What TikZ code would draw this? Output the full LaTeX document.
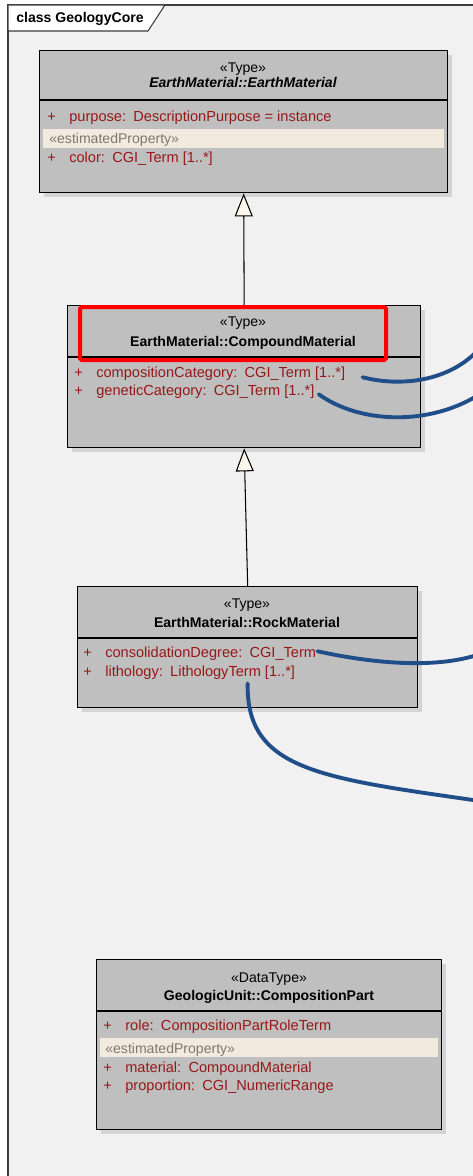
\documentclass[tikz,border=0pt]{standalone}
\usepackage{fontspec}
\setmainfont{Liberation Sans}
\usepackage{xcolor}
\usetikzlibrary{arrows.meta, calc, shadows}

\definecolor{framebg}{RGB}{241,241,241}
\definecolor{framecol}{RGB}{60,60,60}
\definecolor{boxgray}{RGB}{191,191,191}
\definecolor{shadowgray}{RGB}{212,212,212}
\definecolor{attrred}{RGB}{150,25,25}
\definecolor{estgray}{RGB}{125,120,112}
\definecolor{bandfill}{RGB}{242,234,222}
\definecolor{creamfill}{RGB}{253,246,234}
\definecolor{assocblue}{RGB}{31,78,137}

\newcommand{\plus}{\makebox[0.44cm][l]{+}}

\begin{document}
\begin{tikzpicture}[x=0.02cm, y=-0.02cm,
    font=\fontsize{8}{9.6}\selectfont,
    classbox/.style={draw=black, line width=0.8pt, fill=boxgray, anchor=north west, inner sep=0pt,
        drop shadow={shadow xshift=0.09cm, shadow yshift=-0.09cm, fill=shadowgray, opacity=1}},
    divider/.style={line width=0.6pt},
    stereo/.style={anchor=base, inner sep=0pt},
    cname/.style={anchor=base, inner sep=0pt, font=\fontsize{8}{9.6}\selectfont\bfseries},
    attr/.style={anchor=base west, inner sep=0pt, text=attrred, font=\fontsize{8.3}{10}\selectfont},
    estband/.style={fill=bandfill},
    esttext/.style={anchor=base west, inner sep=0pt, text=estgray},
    redmark/.style={draw=red, line width=0.08cm, rounded corners=1pt},
    gen/.style={-{Triangle[width=0.36cm, length=0.46cm, fill=creamfill]}, line width=0.6pt},
    assoc/.style={draw=assocblue, line width=2.2pt, line cap=round}]
\useasboundingbox (0,0) rectangle (473,1176);
\clip (0,0) rectangle (473,1176);

\fill[white] (0,0) rectangle (473,1176);
\fill[framebg] (8,5) rectangle (480,1180);
\draw[framecol, line width=0.6pt] (8,1180) -- (8,5) -- (480,5);
\filldraw[fill=white, draw=framecol, line width=0.6pt] (8,5) -- (165,5) -- (148,31) -- (8,31) -- cycle;
\node[anchor=base west, inner sep=0pt, font=\fontsize{8}{9.6}\selectfont\bfseries] (title) at (16,23) {class GeologyCore};

\node[classbox, minimum width=8.16cm, minimum height=2.84cm] (em) at (39,50) {};
\node[classbox, minimum width=7.06cm, minimum height=2.84cm] (cm) at (67,305) {};
\node[classbox, minimum width=6.8cm, minimum height=2.42cm] (rm) at (77,586) {};
\node[classbox, minimum width=6.9cm, minimum height=3.4cm] (cp) at (96,959) {};

\draw[divider] (39,100) -- (447,100);
\node[stereo] (emst) at (243,72) {«Type»};
\node[cname, font=\fontsize{8}{9.6}\selectfont\bfseries\itshape] (emnm) at (243,88) {EarthMaterial::EarthMaterial};
\node[attr] (pu) at (47,121) {\plus purpose:\enspace DescriptionPurpose = instance};
\fill[estband] (43,129) rectangle (444,148);
\node[esttext] (emest) at (49,143) {«estimatedProperty»};
\node[attr] (co) at (47,162) {\plus color:\enspace CGI\_Term [1..*]};

\draw[divider] (67,357) -- (420,357);
\node[stereo] (cmst) at (243,326) {«Type»};
\node[cname] (cmnm) at (243,346) {EarthMaterial::CompoundMaterial};
\draw[redmark] (80,307) rectangle (386,360);
\node[attr] (cc) at (74,377) {\plus compositionCategory:\enspace CGI\_Term [1..*]};
\node[attr] (gc) at (74,395) {\plus geneticCategory:\enspace CGI\_Term [1..*]};

\draw[divider] (77,638) -- (417,638);
\node[stereo] (rmst) at (247,608) {«Type»};
\node[cname] (rmnm) at (247,627) {EarthMaterial::RockMaterial};
\node[attr] (cd) at (83,657) {\plus consolidationDegree:\enspace CGI\_Term};
\node[attr] (li) at (83,676) {\plus lithology:\enspace LithologyTerm [1..*]};

\draw[divider] (96,1011) -- (441,1011);
\node[stereo] (cpst) at (269,982) {«DataType»};
\node[cname] (cpnm) at (269,1000) {GeologicUnit::CompositionPart};
\node[attr] (ro) at (103,1030) {\plus role:\enspace CompositionPartRoleTerm};
\fill[estband] (100,1038) rectangle (438,1057);
\node[esttext] (cpest) at (105,1053) {«estimatedProperty»};
\node[attr] (ma) at (103,1072) {\plus material:\enspace CompoundMaterial};
\node[attr] (pr) at (103,1090) {\plus proportion:\enspace CGI\_NumericRange};

\draw[gen] (cm.north) -- (em.south);
\draw[gen] (rm.north) -- (cm.south);

\coordinate (out1) at (480,348);
\coordinate (out2) at (480,394);
\coordinate (out3) at (480,654);
\coordinate (out4) at (480,801);
\draw[assoc] ([shift={(17,4)}]cc.east) .. controls (400,387) and (450,382) .. (out1);
\draw[assoc] ([shift={(4,3)}]gc.east) .. controls (360,424) and (430,426) .. (out2);
\draw[assoc] ([shift={(1,-2)}]cd.east) .. controls (380,665) and (440,668) .. (out3);
\draw[assoc] ($(li.south -| rm.north)+(0,4)$) .. controls (246,770) and (320,778) .. (out4);
\end{tikzpicture}
\end{document}
